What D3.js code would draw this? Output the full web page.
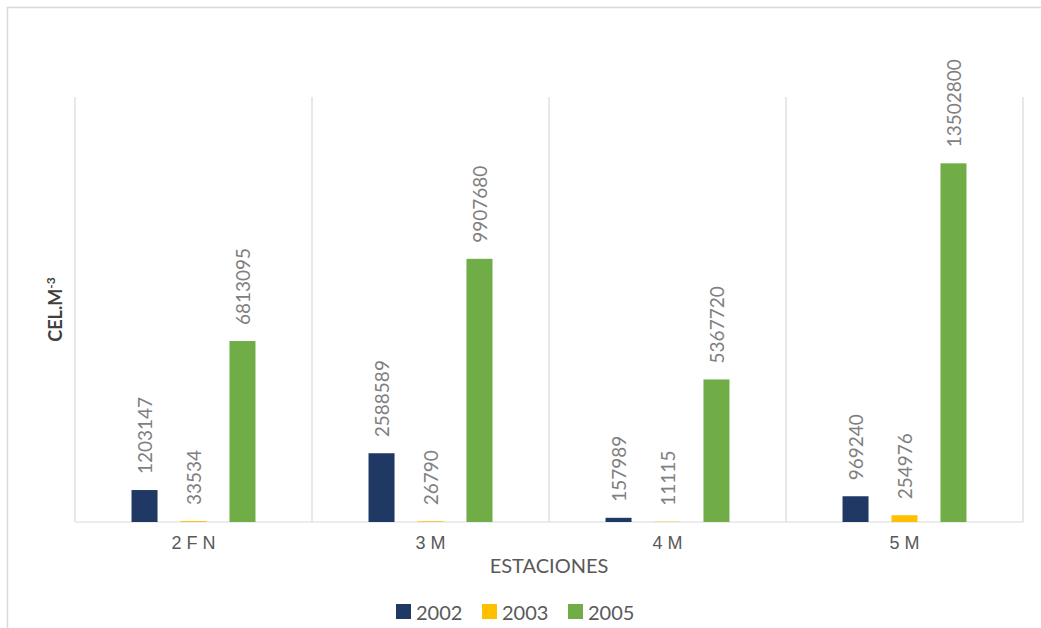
<!DOCTYPE html>
<html>
<head>
  <meta charset="utf-8"/>
  <title>Estaciones</title>
  <script src="https://d3js.org/d3.v7.min.js"></script>
  <style>
    html, body {
      margin: 0;
      padding: 0;
      background: #fff;
      overflow: hidden;
    }
    svg {
      display: block;
      font-family: Lato, "Open Sans", sans-serif;
    }
    .grid line {
      stroke: #d9d9d9;
      stroke-width: 1.2px;
    }
    .value {
      fill: #7f7f7f;
      font-size: 19px;
    }
    .cat {
      fill: #595959;
      font-size: 18px;
    }
  </style>
</head>
<body>
  <div id="chart"></div>

  <script>
    // stations on the x axis
    const stations = ["2 F N", "3 M", "4 M", "5 M"];
    // one series per year
    const years = ["2002", "2003", "2005"];
    const values2002 = [1203147, 2588589, 157989, 969240];
    const values2003 = [33534, 26790, 11115, 254976];
    const values2005 = [6813095, 9907680, 5367720, 13502800];
    const colors = ["#203864", "#ffc000", "#70ad47"];

    const width = 1041, height = 628;
    const plot = { left: 75, right: 1023, top: 97, bottom: 522 };

    const svg = d3.select("#chart")
      .append("svg")
      .attr("width", width)
      .attr("height", height);

    // outer chart frame (runs off the right/bottom edge)
    svg.append("rect")
      .attr("x", 7.5)
      .attr("y", 7.5)
      .attr("width", 1100)
      .attr("height", 700)
      .attr("fill", "none")
      .attr("stroke", "#d9d9d9")
      .attr("stroke-width", 1.5);

    const x0 = d3.scaleBand()
      .domain(stations)
      .range([plot.left, plot.right])
      .paddingInner(0.477)
      .paddingOuter(0.2385);

    const x1 = d3.scaleBand()
      .domain(years)
      .range([0, x0.bandwidth()])
      .paddingInner(0.469);

    const y = d3.scaleLinear()
      .domain([0, 16000000])
      .range([plot.bottom, plot.top]);

    // vertical separators between categories + baseline
    const grid = svg.append("g").attr("class", "grid");
    const step = x0.step();
    const edges = stations.map(s => x0(s) - x0.paddingOuter() * step)
      .concat([plot.right]);
    grid.selectAll(".vline")
      .data(edges)
      .enter().append("line")
      .attr("x1", d => d).attr("x2", d => d)
      .attr("y1", plot.top).attr("y2", plot.bottom);
    grid.append("line")
      .attr("x1", plot.left).attr("x2", plot.right)
      .attr("y1", plot.bottom).attr("y2", plot.bottom);

    const series = [values2002, values2003, values2005];
    const rows = [];
    series.forEach((vals, si) => {
      vals.forEach((v, ci) => {
        rows.push({ station: stations[ci], year: years[si], value: v, color: colors[si] });
      });
    });

    svg.append("g").selectAll("rect")
      .data(rows)
      .enter().append("rect")
      .attr("x", d => x0(d.station) + x1(d.year))
      .attr("width", x1.bandwidth())
      .attr("y", d => y(d.value))
      .attr("height", d => plot.bottom - y(d.value))
      .attr("fill", d => d.color);

    // rotated value labels above each bar
    svg.append("g").selectAll("text")
      .data(rows)
      .enter().append("text")
      .attr("class", "value")
      .attr("transform", d => {
        const cx = x0(d.station) + x1(d.year) + x1.bandwidth() / 2;
        return `translate(${cx},${y(d.value) - 16}) rotate(-90)`;
      })
      .attr("dominant-baseline", "central")
      .text(d => d.value);

    // category labels
    const xAxis = d3.axisBottom(x0).tickSize(0).tickPadding(0);
    const ax = svg.append("g")
      .attr("transform", `translate(0,${plot.bottom})`)
      .call(xAxis);
    ax.select(".domain").remove();
    ax.selectAll("text")
      .attr("class", "cat")
      .attr("y", 27)
      .attr("dy", 0)
      .attr("font-family", null)
      .attr("font-size", null);

    // axis titles
    svg.append("text")
      .attr("x", (plot.left + plot.right) / 2)
      .attr("y", 573)
      .attr("text-anchor", "middle")
      .attr("fill", "#595959")
      .attr("font-size", 20)
      .text("ESTACIONES");

    const yt = svg.append("text")
      .attr("transform", `translate(62,${(plot.top + plot.bottom) / 2}) rotate(-90)`)
      .attr("text-anchor", "middle")
      .attr("fill", "#404040")
      .attr("font-size", 18)
      .attr("font-weight", "bold");
    yt.append("tspan").text("CEL.M");
    yt.append("tspan").attr("font-size", 12).attr("dy", -7).text("-3");

    // legend
    const legend = svg.append("g")
      .attr("transform", "translate(396,604)");
    const item = legend.selectAll("g")
      .data(years)
      .enter().append("g")
      .attr("transform", (d, i) => `translate(${i * 86},0)`);
    item.append("rect")
      .attr("width", 15)
      .attr("height", 15)
      .attr("fill", (d, i) => colors[i]);
    item.append("text")
      .attr("x", 20)
      .attr("y", 16)
      .attr("fill", "#595959")
      .attr("font-size", 20)
      .text(d => d);
  </script>
</body>
</html>
